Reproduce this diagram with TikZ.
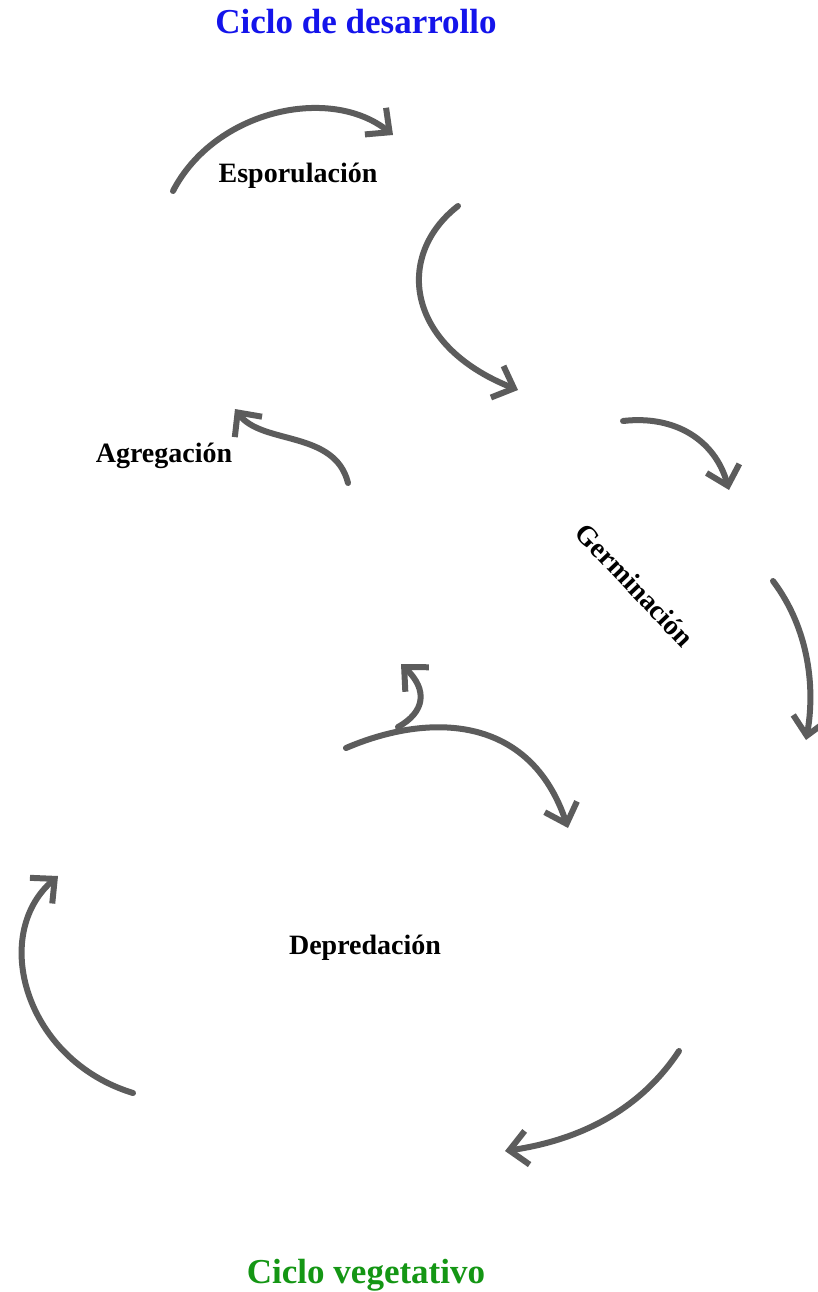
\documentclass[tikz,border=0pt]{standalone}
\usepackage{fontspec}
\setmainfont{Liberation Serif}
\usetikzlibrary{arrows.meta}
\definecolor{pencil}{RGB}{92,92,92}
\definecolor{titleblue}{RGB}{20,20,235}
\definecolor{titlegreen}{RGB}{20,150,20}
\tikzset{
  cyc/.style={draw=pencil, line width=6pt, line cap=round,
    -{Straight Barb[length=18pt,width=34pt,line width=6pt]}},
  lbl/.style={font=\bfseries\fontsize{28}{32}\selectfont, inner sep=0pt},
  ttl/.style={font=\bfseries\fontsize{35}{40}\selectfont, inner sep=0pt}
}
\begin{document}
\begin{tikzpicture}[x=1pt,y=-1pt]
\useasboundingbox[fill=white] (0,0) rectangle (818,1292);
% titles
\node[ttl, text=titleblue] (t1) at (356,22) {Ciclo de desarrollo};
\node[ttl, text=titlegreen] (t2) at (366,1275) {Ciclo vegetativo};
% labels
\node[lbl] (esp) at (298,176) {Esporulación};
\node[lbl] (agr) at (164,456) {Agregación};
\node[lbl, rotate=-46.5] (ger) at (635,585) {Germinación};
\node[lbl] (dep) at (365,948) {Depredación};
% arrow end points
\coordinate (a1s) at (173,191);  \coordinate (a1e) at (393,135);
\coordinate (a2s) at (458,206);  \coordinate (a2e) at (518,390);
\coordinate (a3s) at (623,421);  \coordinate (a3e) at (729,490);
\coordinate (a4s) at (773,581);  \coordinate (a4e) at (806,740);
\coordinate (a5s) at (346,748);  \coordinate (a5e) at (568,828);
\coordinate (a5b) at (398,727);  \coordinate (a5t) at (401,664);
\coordinate (a6s) at (133,1093); \coordinate (a6e) at (58,876);
\coordinate (a7s) at (679,1051); \coordinate (a7e) at (505,1151);
\coordinate (a8s) at (348,483);  \coordinate (a8e) at (235,409);
% arrows
\draw[cyc] (a1s) .. controls (215,110) and (330,85) .. (a1e);
\draw[cyc] (a2s) .. controls (395,255) and (405,345) .. (a2e);
\draw[cyc] (a3s) .. controls (675,415) and (715,440) .. (a3e);
\draw[cyc] (a4s) .. controls (810,630) and (815,690) .. (a4e);
\draw[cyc] (a5s) .. controls (430,712) and (530,715) .. (a5e);
\draw[cyc] (a5b) .. controls (425,712) and (428,690) .. (a5t);
\draw[cyc] (a6s) .. controls (25,1060) and (-10,935) .. (a6e);
\draw[cyc] (a7s) .. controls (640,1110) and (580,1140) .. (a7e);
\draw[cyc] (a8s) .. controls (335,430) and (262,445) .. (a8e);
\end{tikzpicture}
\end{document}
